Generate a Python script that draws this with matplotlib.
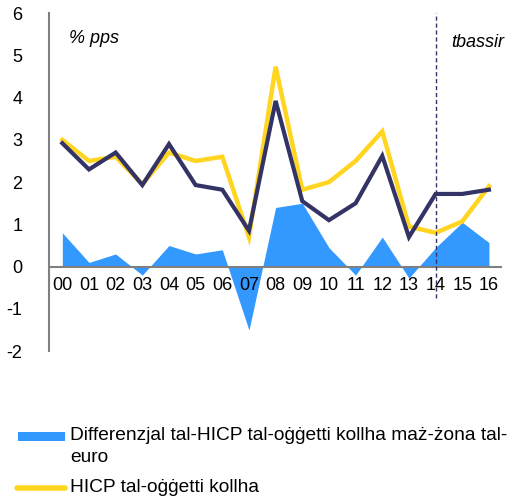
import numpy as np
import matplotlib.pyplot as plt
from matplotlib.patches import Rectangle
from matplotlib.lines import Line2D

plt.rcParams['font.family'] = ['Liberation Sans', 'DejaVu Sans']

years = ['00', '01', '02', '03', '04', '05', '06', '07', '08',
         '09', '10', '11', '12', '13', '14', '15', '16']
# differential vs euro area (area)
diff = [0.8, 0.1, 0.3, -0.2, 0.5, 0.3, 0.4, -1.5, 1.4,
        1.5, 0.45, -0.2, 0.7, -0.27, 0.45, 1.05, 0.57]
# HICP all items (yellow)
hicp = [3.0, 2.5, 2.6, 1.95, 2.7, 2.5, 2.6, 0.7, 4.73,
        1.82, 2.0, 2.5, 3.2, 0.95, 0.8, 1.07, 1.9]
# navy line
navy = [2.92, 2.3, 2.7, 1.93, 2.9, 1.93, 1.82, 0.85, 3.92,
        1.55, 1.1, 1.5, 2.62, 0.7, 1.72, 1.72, 1.82]
yticks = [-2, -1, 0, 1, 2, 3, 4, 5, 6]
legend_labels = ['Differenzjal tal-HICP tal-oġġetti kollha maż-żona tal-\neuro',
                 'HICP tal-oġġetti kollha']

BLUE = '#3399FF'
YELLOW = '#FFD520'
NAVY = '#333366'

W, H = 518, 501
fig = plt.figure(figsize=(W / 100, H / 100), dpi=100)
ax = fig.add_axes([0.0946, 0.299, 0.875, 0.675])

x = np.arange(len(years))
ax.fill_between(x, diff, 0, color=BLUE, linewidth=0, zorder=1)
ax.plot(x, hicp, color=YELLOW, lw=3.2, zorder=3, solid_joinstyle='miter')
ax.plot(x, navy, color=NAVY, lw=3.0, zorder=4, solid_joinstyle='miter')

ax.axhline(0, color='#808080', lw=1.5, zorder=2)
ax.plot([14, 14], [-0.75, 6], color=NAVY, lw=1, ls=(0, (3, 2)),
        clip_on=False, zorder=5)

ax.set_xlim(-0.5, 16.5)
ax.set_ylim(-2, 6)
ax.set_yticks(yticks)
ax.set_yticklabels([str(v) for v in yticks], fontsize=13)
ax.tick_params(axis='y', length=0, pad=19)
ax.set_xticks([])
for i, lab in enumerate(years):
    ax.text(i, -0.25, lab, ha='center', va='top', fontsize=13)

for s in ['top', 'right', 'bottom']:
    ax.spines[s].set_visible(False)
ax.spines['left'].set_color('#808080')
ax.spines['left'].set_linewidth(1.5)

ax.text(0.25, 5.4, '% pps', fontsize=13, style='italic', va='center')
ax.text(14.6, 5.3, 'tbassir', fontsize=13, style='italic', va='center')

# legend drawn by hand so the patch sits on the first text line
fig.patches.append(Rectangle((18 / W, 1 - 441 / H), 47 / W, 9 / H,
                             transform=fig.transFigure, facecolor=BLUE,
                             edgecolor='none'))
fig.lines.append(Line2D([17 / W, 65 / W], [1 - 488 / H, 1 - 488 / H],
                        transform=fig.transFigure, color=YELLOW, lw=4,
                        solid_capstyle='round'))
fig.text(70 / W, 1 - 427 / H, legend_labels[0], fontsize=13.8, va='top',
         ha='left', linespacing=1.4)
fig.text(70 / W, 1 - 488 / H, legend_labels[1], fontsize=13.8, va='center',
         ha='left')

fig.savefig('out.png', dpi=100)
